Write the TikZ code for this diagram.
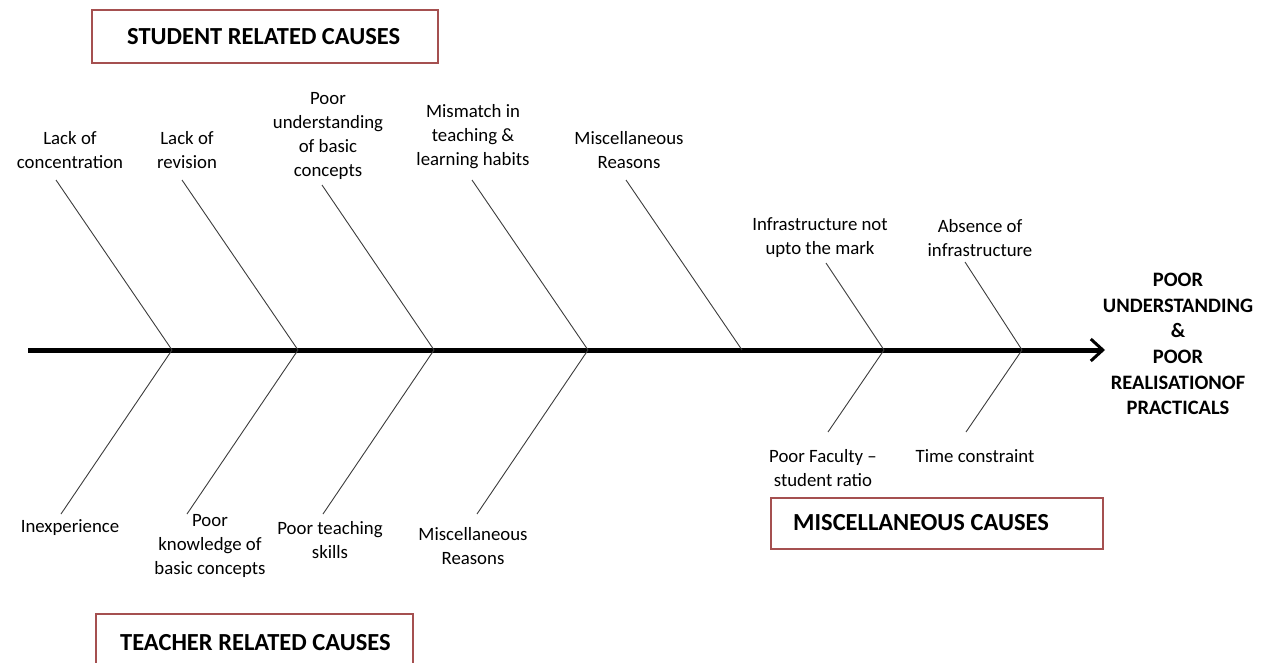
\documentclass[tikz,border=0pt]{standalone}
\usepackage{fontspec}
\setmainfont{Carlito}
\usetikzlibrary{arrows.meta,shadows}
\definecolor{boxred}{RGB}{165,80,80}
\definecolor{bone}{RGB}{60,60,60}
\begin{document}
\begin{tikzpicture}[x=1pt,y=-1pt,
  lbl/.style={align=center,inner sep=0pt,font=\fontsize{18.8}{24}\selectfont},
  catbox/.style={draw=boxred,line width=1.8pt,fill=white,anchor=north west,inner sep=0pt,
    drop shadow={opacity=0.2,shadow xshift=1.5pt,shadow yshift=-1.5pt}},
  cattext/.style={anchor=west,inner sep=0pt,font=\bfseries\fontsize{24.5}{28}\selectfont},
  effect/.style={align=center,inner sep=0pt,font=\bfseries\fontsize{20.5}{25.6}\selectfont},
  spine/.style={line width=5pt,-{Straight Barb[length=12pt,width=22pt,line width=3pt]}},
  branch/.style={draw=bone,line width=0.9pt}]
\useasboundingbox (0,0) rectangle (1268,663);

% category boxes
\node[catbox,minimum width=346,minimum height=53] (sbox) at (91,9) {};
\node[cattext] (stxt) at (127,37) {STUDENT RELATED CAUSES};
\node[catbox,minimum width=317,minimum height=70] (tbox) at (95,613) {};
\node[cattext] (ttxt) at (120,643) {TEACHER RELATED CAUSES};
\node[catbox,minimum width=332,minimum height=51] (mbox) at (770,497) {};
\node[cattext] (mtxt) at (793,523) {MISCELLANEOUS CAUSES};

% spine
\coordinate (tail) at (28,350);
\coordinate (j1) at (172,350);
\coordinate (j2) at (298,350);
\coordinate (j3) at (434,350);
\coordinate (j4) at (588,350);
\coordinate (j5) at (742,350);
\coordinate (j6) at (884,350);
\coordinate (j7) at (1022,350);
\coordinate (head) at (1105,350);
\draw[spine] (tail) -- (head);

% effect
\node[effect] (eff) at (1178,344) {POOR\\UNDERSTANDING\\\&\\POOR\\REALISATIONOF\\PRACTICALS};

% upper labels
\node[lbl] (lc) at (70,150) {Lack of\\concentration};
\node[lbl] (lr) at (187,150) {Lack of\\revision};
\node[lbl] (pu) at (328,136) {Poor\\understanding\\of basic\\concepts};
\node[lbl] (mm) at (473,137) {Mismatch in\\teaching \&\\learning habits};
\node[lbl] (mr) at (629,150) {Miscellaneous\\Reasons};
\node[lbl] (inf) at (820,238) {Infrastructure not\\upto the mark};
\node[lbl] (abs) at (980,238) {Absence of\\infrastructure};

% lower labels
\node[lbl] (inx) at (70,528) {Inexperience};
\node[lbl] (pk) at (210,546) {Poor\\knowledge of\\basic concepts};
\node[lbl] (pt) at (330,540) {Poor teaching\\skills};
\node[lbl] (mr2) at (473,546) {Miscellaneous\\Reasons};
\node[lbl] (pf) at (823,468) {Poor Faculty –\\student ratio};
\node[lbl] (tc) at (975,456) {Time constraint};

% branch ends
\coordinate (u1) at (56,180);
\coordinate (u2) at (182,180);
\coordinate (u3) at (322,185);
\coordinate (u4) at (472,180);
\coordinate (u5) at (626,180);
\coordinate (u6) at (826,263);
\coordinate (u7) at (965,262);
\coordinate (d1) at (61,514);
\coordinate (d2) at (187,514);
\coordinate (d3) at (323,514);
\coordinate (d4) at (477,514);
\coordinate (d6) at (828,432);
\coordinate (d7) at (966,432);

\draw[branch] (u1) -- (j1);
\draw[branch] (u2) -- (j2);
\draw[branch] (u3) -- (j3);
\draw[branch] (u4) -- (j4);
\draw[branch] (u5) -- (j5);
\draw[branch] (u6) -- (j6);
\draw[branch] (u7) -- (j7);
\draw[branch] (d1) -- (j1);
\draw[branch] (d2) -- (j2);
\draw[branch] (d3) -- (j3);
\draw[branch] (d4) -- (j4);
\draw[branch] (d6) -- (j6);
\draw[branch] (d7) -- (j7);
\end{tikzpicture}
\end{document}
